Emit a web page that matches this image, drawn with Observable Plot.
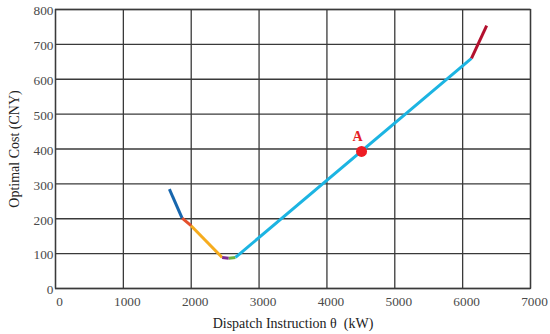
<!DOCTYPE html>
<html><head><meta charset="utf-8">
<script src="https://cdn.jsdelivr.net/npm/d3@7"></script>
<script src="https://cdn.jsdelivr.net/npm/@observablehq/plot@0.6"></script>
<style>
body{margin:0;background:#fff;}
svg{font-family:"Liberation Serif","DejaVu Serif",serif;}
</style>
</head><body>
<div id="chart"></div>
<script>
const segmentNames = ["s1","s2","s3","s4","s5","s6","s7"];
const segmentX = [[1678,1866],[1866,1998],[1998,2456],[2456,2553],[2553,2652],[2652,6130],[6130,6354]];
const segmentY = [[285,202],[202,180],[180,89],[89,87],[87,89],[89,660],[660,754]];
const segmentColors = ["#1766ad","#e4502d","#f6ac1e","#7d2a90","#6db33f","#1cb4e2","#b3102e"];
const pointX = [4510];
const pointY = [393];
const pointLabel = ["A"];
const xTicks = [0,1000,2000,3000,4000,5000,6000,7000];
const yTicks = [0,100,200,300,400,500,600,700,800];

const lineData = [];
segmentNames.forEach((n,i)=>segmentX[i].forEach((x,j)=>lineData.push({seg:n,x,y:segmentY[i][j]})));
const pts = pointX.map((x,i)=>({x,y:pointY[i],label:pointLabel[i]}));

const chart = Plot.plot({
  width:550, height:334,
  marginLeft:55, marginRight:20, marginTop:9, marginBottom:46,
  style:{fontFamily:"Liberation Serif, serif", fontSize:"13px", color:"#333"},
  x:{domain:[0,7000]},
  y:{domain:[0,800]},
  color:{domain:segmentNames, range:segmentColors},
  marks:[
    Plot.gridX(xTicks,{stroke:"#3a3a3a", strokeOpacity:1, strokeWidth:1.3}),
    Plot.gridY(yTicks,{stroke:"#3a3a3a", strokeOpacity:1, strokeWidth:1.3}),
    Plot.axisX({ticks:xTicks, tickSize:0, tickPadding:8, dx:4, tickFormat:d3.format("d"), fill:"#4a4a4a", label:"Dispatch Instruction θ  (kW)", labelAnchor:"center", labelOffset:39, labelArrow:"none"}),
    Plot.axisY({ticks:yTicks, tickSize:0, tickPadding:2, dy:1.5, tickFormat:d3.format("d"), fill:"#4a4a4a", label:"Optimal Cost (CNY)", labelAnchor:"center", labelOffset:46, labelArrow:"none"}),
    Plot.frame({stroke:"#3a3a3a", strokeWidth:1.3}),
    Plot.line(lineData,{x:"x", y:"y", z:"seg", stroke:"seg", strokeWidth:3, strokeLinecap:"butt"}),
    Plot.dot(pts,{x:"x", y:"y", r:5.5, fill:"#ee1c24", stroke:"none"}),
    Plot.text(pts,{x:"x", y:"y", text:"label", dy:-15, dx:-4, fill:"#e41e26", fontWeight:"bold", fontSize:14, fontFamily:"Liberation Serif, serif"})
  ]
});
chart.querySelectorAll('[aria-label$="tick label"] text').forEach(t=>{t.style.fontSize="13.3px";});
chart.querySelectorAll('[aria-label$="axis label"] text').forEach(t=>{t.style.fontSize="14px"; t.style.fill="#222";});
document.getElementById("chart").appendChild(chart);
</script>
</body></html>
